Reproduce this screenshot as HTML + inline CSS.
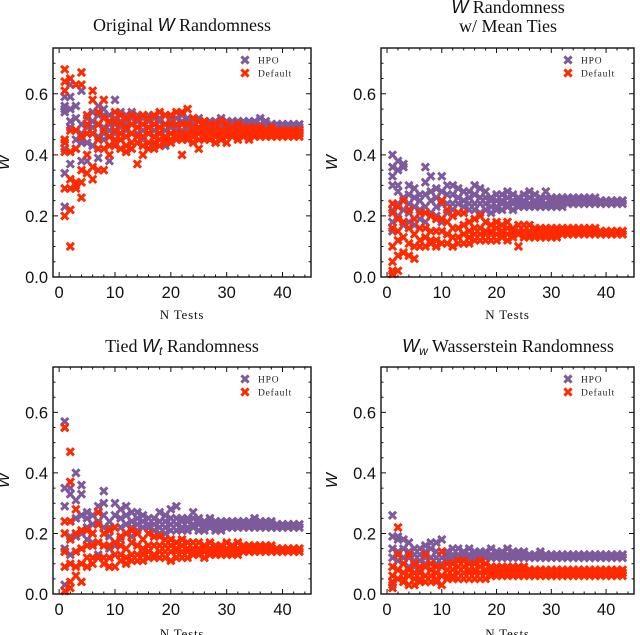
<!DOCTYPE html>
<html><head><meta charset="utf-8">
<style>
html,body{margin:0;padding:0;background:#fff;}
svg{display:block;}
.tl{font-family:"Liberation Sans",sans-serif;font-size:16.5px;fill:#111;}
.tt{font-family:"Liberation Serif",serif;font-size:18px;fill:#111;}
.lg{font-family:"Liberation Serif",serif;font-size:9.5px;fill:#222;letter-spacing:0.8px;}
.xl{font-family:"Liberation Serif",serif;font-size:13px;fill:#111;letter-spacing:0.8px;}
.yl{font-family:"Liberation Sans",sans-serif;font-size:16px;font-style:italic;fill:#111;}
</style></head>
<body>
<svg id="fig" width="640" height="635" viewBox="0 0 640 635" xmlns="http://www.w3.org/2000/svg">
<text class="tt" x="182" y="31" text-anchor="middle">Original <tspan font-family="Liberation Sans" font-style="italic">W</tspan> Randomness</text>
<text class="tt" x="508" y="13" text-anchor="middle"><tspan font-family="Liberation Sans" font-style="italic">W</tspan> Randomness</text>
<text class="tt" x="508" y="32" text-anchor="middle">w/ Mean Ties</text>
<text class="tt" x="182" y="352" text-anchor="middle">Tied <tspan font-family="Liberation Sans" font-style="italic">W<tspan font-size="12" dy="3">t</tspan></tspan><tspan dy="-3"> Randomness</tspan></text>
<text class="tt" x="508" y="352" text-anchor="middle"><tspan font-family="Liberation Sans" font-style="italic">W<tspan font-size="12" dy="3">w</tspan></tspan><tspan dy="-3"> Wasserstein Randomness</tspan></text>
</svg>
<script>
// categories: N tests 1..43
const nTests = [1,2,3,4,5,6,7,8,9,10,11,12,13,14,15,16,17,18,19,20,21,22,23,24,25,26,27,28,29,30,31,32,33,34,35,36,37,38,39,40,41,42,43];
const xTicks = [0,10,20,30,40];
const yTicks = [0.0,0.2,0.4,0.6];
const yTickLabels = ["0.0","0.2","0.4","0.6"];
const xTickLabels = ["0","10","20","30","40"];
const seriesNames = ["HPO","Default"];
// values in hundredths, one string per N
const p1Hpo = ["23 34 42 55 59 54 56","63 59 49 37 55 51","45 56 52 42 48","61 38 44 50 45 47","38 49 52 44 47","47 54 43 51 49","56 39 50 46 53","53 45 49 55 47","38 50 46 53 48","58 44 50 52 47","54 45 49 51 47","53 41 48 51 50","54 42 47 50 52","53 44 49 51 47","52 45 48 50 46","53 44 49 51 47","52 43 48 50 46","51 45 49 52 47","53 43 48 50 46","52 45 49 51 47","52 46 49 50 48","53 46 48 51 47","52 45 49 51 48","51 46 48 50 47","52 47 49 51 48","51 46 49 50 48","51 47 49 50 48","51 47 48 50 49","52 47 49 50 48","51 47 49 50 48","51 48 49 50 49","51 47 49 50 48","50 48 49 51 49","51 48 49 50 49","50 48 49 51 49","52 48 49 50 49","50 48 49 51 49","50 48 49 50 49","50 48 49 50 49","50 48 49 50 49","50 48 49 49 48","50 48 49 49 48","50 48 49 49 48"];
const p1Def = ["68 64 61 45 41 29 20 44","65 29 22 10 41 32 48","63 30 29 42 48 31","67 63 26 31 35 46","53 34 40 47 50","61 32 36 47 58","54 35 45 50 42","58 35 42 48 52","40 51 46 43","54 43 48 45 51","53 42 47 50 45","52 43 46 49 41","53 42 47 50 44","52 37 46 49 44","53 40 46 50 43","52 42 47 49 44","53 42 46 50 44","54 43 47 49 45","53 44 46 50 45","53 45 47 50 44","54 45 47 50 46","54 40 47 50 45","55 45 47 50 46","52 44 47 49 46","51 42 47 49 45","51 45 47 49 46","50 45 47 48 46","50 44 47 49 46","51 45 47 48 46","50 44 46 48 47","49 46 47 48 47","50 45 47 48 46","49 46 47 48 47","49 45 47 48 46","49 46 47 48 47","49 46 47 48 47","48 46 47 48 47","49 46 47 48 47","48 46 47 48 47","48 46 47 48 47","48 46 47 47 47","48 46 47 47 47","48 46 47 47 47"];
const p2Hpo = ["40 36 33 30 22 18 15","38 35 30 24 20 28","37 36 26 17 22","30 27 24 18 21","29 26 23 17","27 25 22 19","36 31 27 23 18","33 28 25 21","29 26 23 20","33 28 24 18","30 27 24 21","30 27 24 22","29 26 24 21","28 25 23 21","28 26 24 22","30 27 24 22","29 26 24 21","28 26 24 22","26 25 23 21","27 25 23 22","27 25 24 22","28 26 24 23","27 25 24 22","26 25 24 23","27 25 24 23","28 26 24 23","27 25 24 23","26 25 24 23","28 26 24 23","26 25 24 23","26 25 24 23","26 25 24 23","26 25 24 24","26 25 24 24","26 25 24 24","26 25 24 24","26 25 25 24","26 25 25 24","25 25 24 24","25 25 24 24","25 25 24 24","25 25 24 24","25 25 24 24"];
const p2Def = ["24 21 16 10 5 2 1","23 19 12 7 2 15","25 18 13 8","22 16 11 7","19 14 10 6","21 16 12 10","21 16 13 10","20 15 12 11","19 15 12 10","25 19 15 11","22 18 14 11","20 16 13 10","21 16 13 11","21 17 14 11","18 15 13 11","19 16 14 12","20 16 14 12","18 15 14 12","17 15 14 12","18 16 14 12","17 15 14 13","18 16 14 12","16 15 14 13","17 15 14 10","17 15 14 13","17 15 14 13","16 15 14 13","16 15 14 13","16 15 14 13","16 15 14 13","16 15 14 13","16 15 14 14","16 15 14 14","16 15 14 14","16 15 15 14","16 15 15 14","16 15 15 14","16 15 15 14","15 15 14 14","15 15 14 14","15 15 14 14","15 15 14 14","15 15 14 14"];
const p3Hpo = ["57 55 35 29 15 14 3","37 35 33 24 19 13","40 31 25 19","36 33 26 20","27 25 22 18","26 23 20 17","29 27 24 13","34 30 26 22","24 22 19 15","30 26 22 16","28 25 22 18","29 26 23 20","27 24 22 19","27 25 23 21","26 24 22 14","25 23 22 20","25 23 21 19","27 24 22 20","26 24 22 20","28 25 23 21","29 25 23 21","25 24 22 21","25 24 22 21","27 25 23 22","25 24 23 21","24 23 22 21","25 24 23 22","24 23 22 21","24 23 22 21","24 23 22 22","24 23 22 22","24 23 22 22","24 23 23 22","24 23 23 22","25 24 23 22","24 23 23 22","24 23 23 22","24 23 22 22","23 23 22 22","23 23 22 22","23 23 22 22","23 23 22 22","23 23 22 22"];
const p3Def = ["55 24 20 14 9 1","47 37 24 18 10 4 2","28 20 14 9 6","21 15 10 4","21 16 12 9","20 16 12 10","27 23 17 12","20 16 12 10","21 16 12 9","22 17 13 9","19 16 13 11","20 15 12 10","21 17 13 11","20 16 13 11","18 15 13 11","20 16 14 12","19 16 13 12","19 16 14 12","18 16 14 12","18 16 14 11","17 15 14 12","18 16 14 12","17 15 14 12","17 15 14 13","17 15 14 13","16 15 14 12","17 15 14 13","16 15 14 13","16 15 14 13","17 15 14 13","16 15 14 13","17 15 14 13","16 15 14 14","16 15 14 14","16 15 14 14","16 15 15 14","16 15 15 14","16 15 15 14","15 15 14 14","15 15 14 14","15 15 14 14","15 15 14 14","15 15 14 14"];
const p4Hpo = ["26 19 15 12 9 3","19 18 14 11 8","18 15 12 10","17 14 12 9","15 13 11 9","15 13 11 8","16 14 12 10","17 15 12 10","17 14 12 10","18 14 12 10","14 13 12 11","15 13 12 11","15 13 12 11","14 13 12 11","15 13 12 11","14 13 12 11","14 13 12 11","14 13 12 12","15 13 12 12","14 13 12 12","14 13 12 12","15 13 12 12","14 13 12 12","14 13 12 12","14 13 12 12","13 13 12 12","13 13 12 12","14 13 12 12","13 13 12 12","13 13 12 12","13 13 12 12","13 13 12 12","13 13 12 12","13 13 12 12","13 13 12 12","13 13 12 12","13 13 12 12","13 13 12 12","13 13 12 12","13 13 12 12","13 13 12 12","13 13 12 12","13 13 12 12"];
const p4Def = ["9 6 4 2","22 13 8 5","10 7 5 4","13 8 6 3","10 7 5 3","9 7 5 4","13 9 6 4","10 8 6 4","9 7 5 4","14 9 6 3","10 8 6 5","10 8 6 5","11 9 7 5","11 9 7 5","10 8 7 5","10 8 7 5","11 9 7 5","10 8 7 5","9 8 7 6","9 8 7 6","9 8 7 6","9 8 7 6","9 8 7 6","9 8 7 6","9 8 7 6","8 8 7 6","8 7 7 6","8 7 7 6","8 7 7 6","8 7 7 6","8 7 7 6","8 7 7 6","8 7 7 6","8 7 7 6","8 7 7 6","8 7 7 6","8 7 7 6","8 7 7 6","8 7 7 6","8 7 7 6","8 7 7 6","8 7 7 6","8 7 7 6"];

const panels = [
  {key:"original", L:53, R:311, T:48, B:277, hpo:p1Hpo, def:p1Def, xlabY:319},
  {key:"mean-ties", L:381, R:634, T:48, B:277, hpo:p2Hpo, def:p2Def, xlabY:319},
  {key:"tied", L:53, R:311, T:367, B:594, hpo:p3Hpo, def:p3Def, xlabY:638},
  {key:"wasserstein", L:381, R:634, T:367, B:594, hpo:p4Hpo, def:p4Def, xlabY:638}
];
const XMIN=-1.1, XMAX=45.1, YMIN=0, YMAX=0.75;
const NS="http://www.w3.org/2000/svg";
const fig=document.getElementById('fig');
const C_HPO="#7d5a9c", C_DEF="#ff2a00";
function mk(tag,attrs,parent){const e=document.createElementNS(NS,tag);for(const k in attrs)e.setAttribute(k,attrs[k]);(parent||fig).appendChild(e);return e;}
function xMarker(g,cx,cy,col,s){
  return mk('path',{d:`M${cx-s},${cy-s}L${cx+s},${cy+s}M${cx-s},${cy+s}L${cx+s},${cy-s}`,stroke:col,'stroke-width':3,'stroke-linecap':'butt',fill:'none'},g);
}
panels.forEach(P=>{
  const sx=v=>P.L+(v-XMIN)/(XMAX-XMIN)*(P.R-P.L);
  const sy=v=>P.B-(v-YMIN)/(YMAX-YMIN)*(P.B-P.T);
  const g=mk('g',{});
  
  
  [[P.hpo,C_HPO,'hpo'],[P.def,C_DEF,'default']].forEach(([arr,col,nm])=>{
    const sg=mk('g',{},g);
    
    
    arr.forEach((str,i)=>{
      str.trim().split(/\s+/).forEach(t=>{
        const v=parseFloat(t)/100;
        const m=xMarker(sg,sx(nTests[i]),sy(v),col,3.6);
        
        
      });
    });
  });
  const fr=mk('rect',{x:P.L,y:P.T,width:P.R-P.L,height:P.B-P.T,fill:'none',stroke:'#111','stroke-width':1.4},g);
  
  
  let d="";
  for(let v=0;v<=44;v+=2){const x=sx(v);const L=(v%10===0)?5:2.5;d+=`M${x},${P.B}v${-L}M${x},${P.T}v${L}`;}
  for(let v=0;v<=0.751;v+=0.05){const y=sy(v);const L=(Math.round(v*100)%20===0)?5:2.5;d+=`M${P.L},${y}h${L}M${P.R},${y}h${-L}`;}
  const tk=mk('path',{d:d,stroke:'#111','stroke-width':1,fill:'none'},g);
  
  
  xTicks.forEach((v,i)=>{
    const t=mk('text',{class:'tl',x:sx(v),y:P.B+21,'text-anchor':'middle'},g);t.textContent=xTickLabels[i];
    
    
  });
  yTicks.forEach((v,i)=>{
    const t=mk('text',{class:'tl',x:P.L-5,y:sy(v)+6,'text-anchor':'end'},g);t.textContent=yTickLabels[i];
    
    
  });
  const xl=mk('text',{class:'xl',x:(P.L+P.R)/2,y:P.xlabY,'text-anchor':'middle'},g);xl.textContent="N Tests";
  
  
  const yx=P.L-44, yy=(P.T+P.B)/2;
  const yl=mk('text',{class:'yl',x:yx,y:yy,'text-anchor':'middle',transform:`rotate(-90 ${yx} ${yy})`},g);yl.textContent="W";
  
  
  [[C_HPO,seriesNames[0],12],[C_DEF,seriesNames[1],25]].forEach(([col,name,dy])=>{
    const lg=mk('g',{},g);
    
    
    xMarker(lg,P.R-66,P.T+dy,col,3.6);
    const t=mk('text',{class:'lg',x:P.R-53,y:P.T+dy+3.5},lg);t.textContent=name;
  });
});
</script>
</body></html>
